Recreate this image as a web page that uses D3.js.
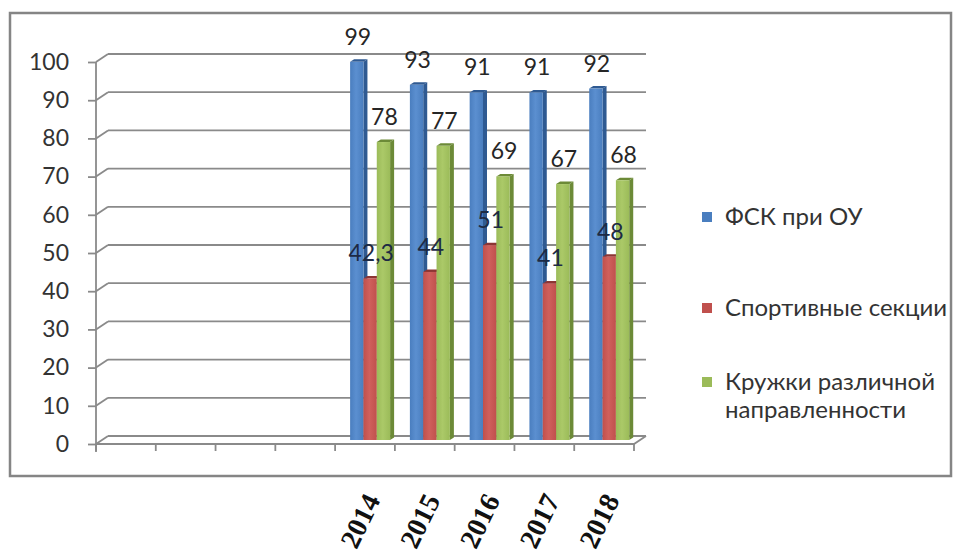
<!DOCTYPE html>
<html>
<head>
<meta charset="utf-8">
<script src="https://cdn.jsdelivr.net/npm/d3@7"></script>
<style>
    body { margin: 0; background: #fff; }
    svg { display: block; }
</style>
</head>
<body>
<svg id="chart" width="955" height="560"></svg>
<script>
'use strict';

// category slots: four empty ones, then the years
const xLabels = ['', '', '', '', '2014', '2015', '2016', '2017', '2018'];
const seriesNames = ['ФСК при ОУ', 'Спортивные секции', 'Кружки различной направленности'];
const fskValues = [null, null, null, null, 99, 93, 91, 91, 92];
const sportValues = [null, null, null, null, 42.3, 44, 51, 41, 48];
const clubValues = [null, null, null, null, 78, 77, 69, 67, 68];
const valueLabels = [
    ['', '', '', '', '99', '93', '91', '91', '92'],
    ['', '', '', '', '42,3', '44', '51', '41', '48'],
    ['', '', '', '', '78', '77', '69', '67', '68']
];
const yTicks = [0, 10, 20, 30, 40, 50, 60, 70, 80, 90, 100];

const series = [fskValues, sportValues, clubValues];
const colors = [
    { front: '#4a7ebf', light: '#5b8fd0', side: '#2f5a92' },
    { front: '#c0504d', light: '#d0605c', side: '#8c3533' },
    { front: '#9bbb59', light: '#abc968', side: '#6c8a37' }
];
const labelColors = ['#262626', '#1d2a44', '#262626'];

const svg = d3.select('#chart');
const font = 'Lato, "Open Sans", sans-serif';

// depth offsets of the 3D box
const depth = { dx: 12, dy: -8 };

const x = d3.scaleBand()
    .domain(d3.range(xLabels.length))
    .range([96, 634]);

const y = d3.scaleLinear()
    .domain([0, 100])
    .range([444, 62]);

// outer frame
svg.append('rect')
    .attr('x', 10).attr('y', 13)
    .attr('width', 941).attr('height', 463)
    .attr('fill', 'none')
    .attr('stroke', '#858585')
    .attr('stroke-width', 2.5);

const grid = svg.append('g').attr('stroke', '#8a8a8a').attr('stroke-width', 1.8).attr('fill', 'none');

// back wall gridlines
grid.selectAll('line.back')
    .data(yTicks)
    .join('line')
    .attr('class', 'back')
    .attr('x1', x.range()[0] + depth.dx)
    .attr('x2', x.range()[1] + depth.dx)
    .attr('y1', d => y(d) + depth.dy)
    .attr('y2', d => y(d) + depth.dy);

// side wall slants
grid.selectAll('line.side')
    .data(yTicks)
    .join('line')
    .attr('class', 'side')
    .attr('x1', x.range()[0])
    .attr('x2', x.range()[0] + depth.dx)
    .attr('y1', d => y(d))
    .attr('y2', d => y(d) + depth.dy);

// floor
grid.append('path')
    .attr('d', d3.line()([
        [x.range()[0], y(0)],
        [x.range()[1], y(0)],
        [x.range()[1] + depth.dx, y(0) + depth.dy]
    ]));

// y axis
const yAxis = d3.axisLeft(y)
    .tickValues(yTicks)
    .tickSize(8)
    .tickPadding(19)
    .tickFormat(d3.format('d'));

const yG = svg.append('g')
    .attr('transform', 'translate(' + x.range()[0] + ',0)')
    .call(yAxis);
yG.select('.domain').remove();
yG.selectAll('.tick line').attr('stroke', '#8a8a8a').attr('stroke-width', 1.8);
yG.selectAll('.tick text')
    .attr('font-family', font)
    .attr('font-size', 23)
    .attr('fill', '#333');

grid.append('line')
    .attr('x1', x.range()[0]).attr('x2', x.range()[0])
    .attr('y1', y(100)).attr('y2', y(0) + 8);

// x ticks at category boundaries
const bounds = d3.range(xLabels.length).map(i => x(i)).concat([x.range()[1]]);
grid.selectAll('line.xtick')
    .data(bounds)
    .join('line')
    .attr('class', 'xtick')
    .attr('x1', d => d).attr('x2', d => d)
    .attr('y1', y(0)).attr('y2', y(0) + 7);

// bars sit in the middle of the depth
const mid = { dx: depth.dx / 2, dy: depth.dy / 2 };
const x1 = d3.scaleBand()
    .domain(d3.range(series.length))
    .range([9, 49]);
const side = { dx: 4, dy: -2.5 };

const defs = svg.append('defs');
colors.forEach((c, k) => {
    const g = defs.append('linearGradient')
        .attr('id', 'grad' + k)
        .attr('x1', '0').attr('x2', '1').attr('y1', '0').attr('y2', '0');
    g.append('stop').attr('offset', '0').attr('stop-color', c.front);
    g.append('stop').attr('offset', '0.45').attr('stop-color', c.light);
    g.append('stop').attr('offset', '1').attr('stop-color', c.front);
});

const barsG = svg.append('g');
const labelsG = svg.append('g');

d3.range(xLabels.length).forEach(i => {
    series.forEach((vals, k) => {
        const v = vals[i];
        if (v === null) return;
        const bx = x(i) + mid.dx + x1(k);
        const bw = x1.bandwidth();
        const top = y(v) + mid.dy;
        const bottom = y(0) + mid.dy;
        const g = barsG.append('g');
        // right side face
        g.append('path')
            .attr('d', d3.line()([
                [bx + bw, bottom], [bx + bw, top],
                [bx + bw + side.dx, top + side.dy], [bx + bw + side.dx, bottom + side.dy]
            ]) + 'Z')
            .attr('fill', colors[k].side);
        // top face
        g.append('path')
            .attr('d', d3.line()([
                [bx, top], [bx + bw, top],
                [bx + bw + side.dx, top + side.dy], [bx + side.dx, top + side.dy]
            ]) + 'Z')
            .attr('fill', colors[k].side);
        // front face
        g.append('rect')
            .attr('x', bx).attr('y', top)
            .attr('width', bw).attr('height', bottom - top)
            .attr('fill', 'url(#grad' + k + ')');

        labelsG.append('text')
            .attr('x', bx + bw / 2 + 1)
            .attr('y', top - 17)
            .attr('text-anchor', 'middle')
            .attr('font-family', font)
            .attr('font-size', 23)
            .attr('fill', labelColors[k])
            .text(valueLabels[k][i]);
    });
});

// year labels, rotated
svg.append('g')
    .selectAll('text')
    .data(d3.range(xLabels.length).filter(i => xLabels[i] !== ''))
    .join('text')
    .attr('transform', i => 'translate(' + (x(i) + x.bandwidth() / 2 + 16) + ',500) rotate(-64)')
    .attr('text-anchor', 'end')
    .attr('font-family', '"Liberation Serif", "Times New Roman", serif')
    .attr('font-weight', 'bold')
    .attr('font-size', 28)
    .attr('fill', '#111')
    .text(i => xLabels[i]);

// legend
const legendRows = [
    { k: 0, y: 217, lines: ['ФСК при ОУ'] },
    { k: 1, y: 308, lines: ['Спортивные секции'] },
    { k: 2, y: 382, lines: ['Кружки различной', 'направленности'] }
];
const legend = svg.append('g');
legendRows.forEach(r => {
    legend.append('rect')
        .attr('x', 702).attr('y', r.y - 5)
        .attr('width', 10).attr('height', 10)
        .attr('fill', colors[r.k].front);
    const t = legend.append('text')
        .attr('x', 725).attr('y', r.y + 8)
        .attr('font-family', font)
        .attr('font-size', 24)
        .attr('fill', '#333');
    r.lines.forEach((line, j) => {
        t.append('tspan').attr('x', 725).attr('dy', j === 0 ? 0 : 28).text(line);
    });
});
</script>
</body>
</html>
